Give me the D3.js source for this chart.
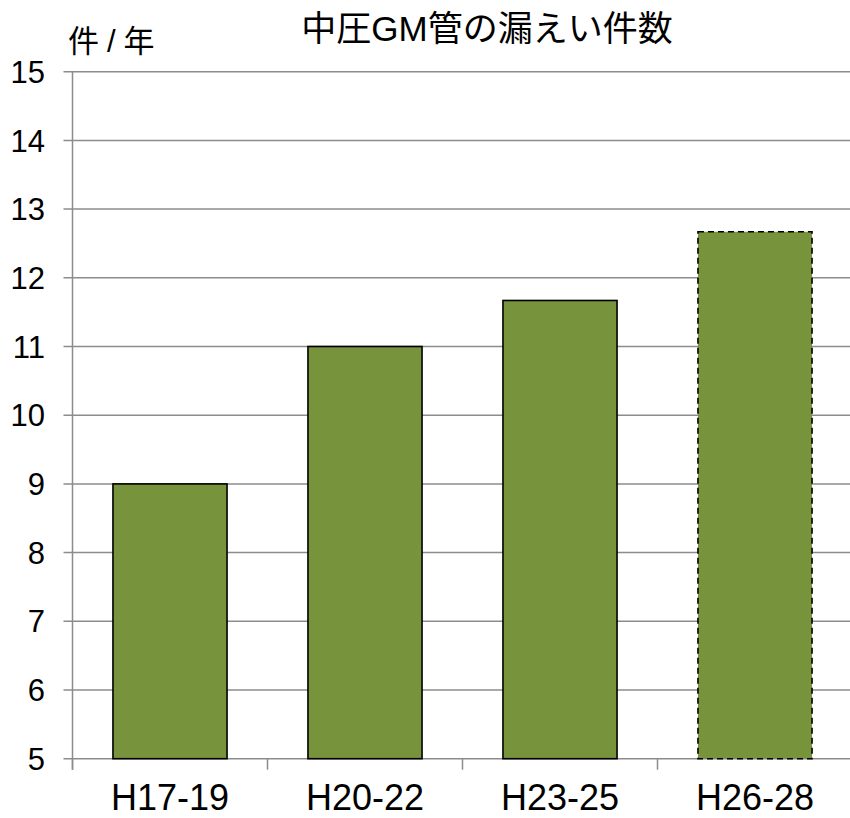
<!DOCTYPE html>
<html>
<head>
<meta charset="utf-8">
<script src="https://cdn.jsdelivr.net/npm/d3@7/dist/d3.min.js"></script>
<style>
  html, body { margin: 0; padding: 0; background: #fff; }
  svg { display: block; }
  text { font-family: "Liberation Sans", Arial, "Noto Sans CJK JP", sans-serif; fill: #000; }
</style>
</head>
<body>
<svg id="chart" width="850" height="818"></svg>
<script>
// Leak counts per year for medium-pressure GM pipe, by three-year period
const categories = ["H17-19", "H20-22", "H23-25", "H26-28"];
const values = [9, 11, 11.67, 12.67];
const dashedLast = [false, false, false, true];
const yTicks = [5, 6, 7, 8, 9, 10, 11, 12, 13, 14, 15];

const title = "中圧GM管の漏えい件数";
const unitLabel = "件/年";

const svg = d3.select("#chart");
const margin = { left: 72.5, right: -2.5, top: 71.7, bottom: 59.3 };
const W = 850, H = 818;

const x = d3.scaleBand()
  .domain(categories)
  .range([margin.left, W - margin.right])
  .paddingInner(0.415)
  .paddingOuter(0.2075);

const y = d3.scaleLinear()
  .domain([5, 15])
  .range([H - margin.bottom, margin.top]);

const gridColor = "#8c8c8c";

// horizontal gridlines
svg.append("g")
  .selectAll("line")
  .data(yTicks)
  .join("line")
  .attr("x1", margin.left - 9)
  .attr("x2", W)
  .attr("y1", d => y(d))
  .attr("y2", d => y(d))
  .attr("stroke", gridColor)
  .attr("stroke-width", 1.5);

// vertical axis line
svg.append("line")
  .attr("x1", margin.left).attr("x2", margin.left)
  .attr("y1", y(15)).attr("y2", y(5) + 11)
  .attr("stroke", gridColor).attr("stroke-width", 1.5);

// category boundary ticks below the baseline
const step = x.step();
const boundaries = d3.range(categories.length + 1).map(i => margin.left + i * step);
svg.append("g")
  .selectAll("line")
  .data(boundaries)
  .join("line")
  .attr("x1", d => d).attr("x2", d => d)
  .attr("y1", y(5)).attr("y2", y(5) + 11)
  .attr("stroke", gridColor).attr("stroke-width", 1.5);

// bars
svg.append("g")
  .selectAll("rect")
  .data(categories)
  .join("rect")
  .attr("x", d => x(d))
  .attr("width", x.bandwidth())
  .attr("y", (d, i) => y(values[i]))
  .attr("height", (d, i) => y(5) - y(values[i]))
  .attr("fill", "#77933c")
  .attr("stroke", "#000")
  .attr("stroke-width", 1.6)
  .attr("stroke-dasharray", (d, i) => dashedLast[i] ? "6,4" : null);

// y tick labels
svg.append("g")
  .selectAll("text")
  .data(yTicks)
  .join("text")
  .attr("x", 45)
  .attr("y", d => y(d))
  .attr("dy", "0.36em")
  .attr("text-anchor", "end")
  .attr("font-size", 31)
  .text(d => d);

// x category labels
svg.append("g")
  .selectAll("text")
  .data(categories)
  .join("text")
  .attr("x", d => x(d) + x.bandwidth() / 2)
  .attr("y", 810)
  .attr("text-anchor", "middle")
  .attr("font-size", 36)
  .text(d => d);

// title and unit
svg.append("text")
  .attr("x", 487).attr("y", 41)
  .attr("text-anchor", "middle")
  .attr("font-size", 35)
  .text(title);

svg.append("text")
  .attr("x", 68).attr("y", 52)
  .attr("font-size", 31)
  .attr("letter-spacing", 8)
  .text(unitLabel);
</script>
</body>
</html>
